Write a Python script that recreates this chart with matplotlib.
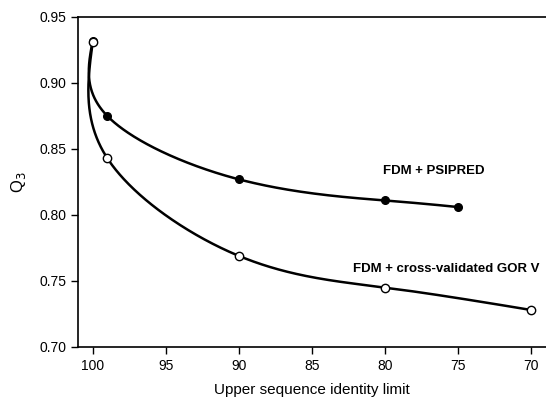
import numpy as np
import matplotlib
matplotlib.use("Agg")
import matplotlib.pyplot as plt

plt.rcParams['font.family'] = ['Liberation Sans', 'DejaVu Sans']

# data
psipred_x = [100, 99, 90, 80, 75]
psipred_y = [0.932, 0.875, 0.827, 0.811, 0.806]
gor_x = [100, 99, 90, 80, 70]
gor_y = [0.931, 0.843, 0.769, 0.745, 0.728]
x_ticks = [100, 95, 90, 85, 80, 75, 70]
y_ticks = [0.70, 0.75, 0.80, 0.85, 0.90, 0.95]


def natural_spline(t, v, tt):
    # natural cubic spline through (t, v), evaluated at tt
    n = len(t)
    h = np.diff(t)
    A = np.zeros((n, n))
    b = np.zeros(n)
    A[0, 0] = 1
    A[-1, -1] = 1
    for i in range(1, n - 1):
        A[i, i - 1] = h[i - 1]
        A[i, i] = 2 * (h[i - 1] + h[i])
        A[i, i + 1] = h[i]
        b[i] = 3 * ((v[i + 1] - v[i]) / h[i] - (v[i] - v[i - 1]) / h[i - 1])
    c = np.linalg.solve(A, b)
    out = np.zeros_like(tt)
    for i in range(n - 1):
        bi = (v[i + 1] - v[i]) / h[i] - h[i] * (2 * c[i] + c[i + 1]) / 3
        di = (c[i + 1] - c[i]) / (3 * h[i])
        m = (tt >= t[i]) & (tt <= t[i + 1])
        d = tt[m] - t[i]
        out[m] = v[i] + bi * d + c[i] * d ** 2 + di * d ** 3
    return out


def smooth(ax, xs, ys):
    # parametric spline in display space, uniform parameter (gives the
    # little overshoot past x=100 like the original)
    pts = ax.transData.transform(np.column_stack([xs, ys]))
    t = np.arange(len(xs), dtype=float)
    tt = np.linspace(0, t[-1], 600)
    px = natural_spline(t, pts[:, 0], tt)
    py = natural_spline(t, pts[:, 1], tt)
    back = ax.transData.inverted().transform(np.column_stack([px, py]))
    return back[:, 0], back[:, 1]


fig = plt.figure(figsize=(5.46, 4.0), dpi=100)
ax = fig.add_axes([0.143, 0.1325, 0.857, 0.825])
ax.set_xlim(101, 69)
ax.set_ylim(0.70, 0.95)

for xs, ys in [(psipred_x, psipred_y), (gor_x, gor_y)]:
    sx, sy = smooth(ax, xs, ys)
    ax.plot(sx, sy, color='black', lw=1.8, zorder=2)

ax.plot(psipred_x, psipred_y, 'o', mfc='black', mec='black', ms=5.5, zorder=3)
ax.plot(gor_x, gor_y, 'o', mfc='white', mec='black', mew=1.0, ms=6, zorder=4)

ax.text(76.7, 0.8333, 'FDM + PSIPRED', fontsize=9.5, fontweight='bold',
        ha='center', va='center')
ax.text(75.8, 0.759, 'FDM + cross-validated GOR V', fontsize=9.5,
        fontweight='bold', ha='center', va='center')

ax.set_xticks(x_ticks)
ax.set_yticks(y_ticks)
ax.set_yticklabels(['%.2f' % v for v in y_ticks])
ax.tick_params(labelsize=10, length=5, width=1, direction='out')
ax.spines['right'].set_visible(False)
for s in ['left', 'bottom', 'top']:
    ax.spines[s].set_linewidth(1.2)

ax.set_xlabel('Upper sequence identity limit', fontsize=11, labelpad=7)
ax.set_ylabel('Q$_3$', fontsize=12, labelpad=8)

fig.savefig('out.png', dpi=100)
